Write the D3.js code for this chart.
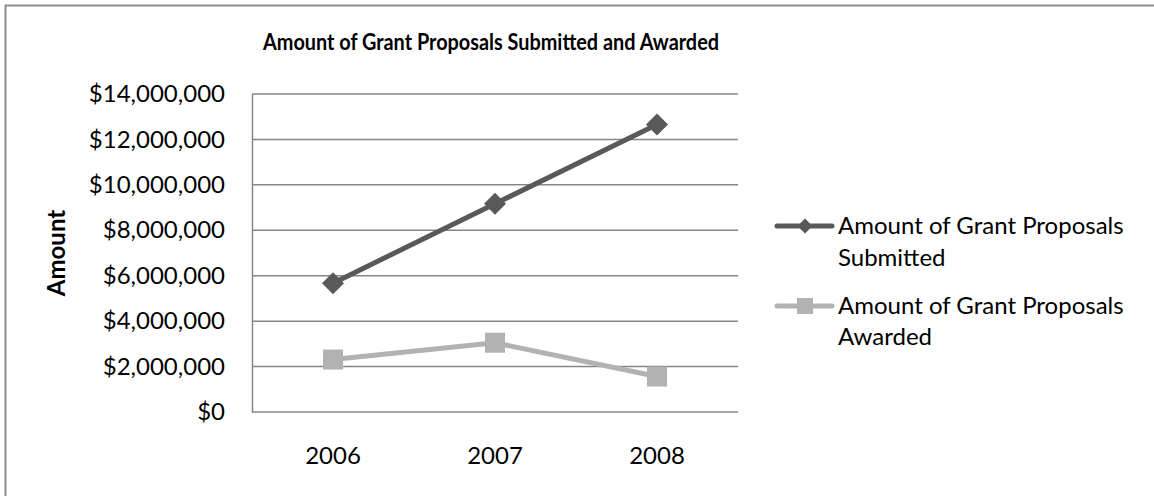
<!DOCTYPE html>
<html>
<head>
<meta charset="utf-8">
<script src="https://cdn.jsdelivr.net/npm/d3@7"></script>
<style>
  html, body { margin: 0; padding: 0; background: #fff; }
  svg { display: block; font-family: Lato, "Open Sans", sans-serif; }
</style>
</head>
<body>
<svg id="chart" width="1154" height="496"></svg>
<script>
// Grant proposal totals by year
const years = ["2006", "2007", "2008"];
const submitted = [5670000, 9170000, 12660000];
const awarded = [2310000, 3050000, 1560000];
const seriesNames = ["Amount of Grant Proposals Submitted", "Amount of Grant Proposals Awarded"];
const yTicks = [0, 2000000, 4000000, 6000000, 8000000, 10000000, 12000000, 14000000];

const svg = d3.select("#chart");
const W = 1154, H = 496;
const plot = { left: 252, right: 738, top: 94, bottom: 412 };
const labelSize = 24;

// frame around the chart area
svg.append("path")
  .attr("d", `M5.5,${H} L5.5,5.5 L${W},5.5`)
  .attr("fill", "none")
  .attr("stroke", "#8e8e8e")
  .attr("stroke-width", 2);

const x = d3.scaleBand().domain(years).range([plot.left, plot.right]).padding(0);
const y = d3.scaleLinear().domain([0, 14000000]).range([plot.bottom, plot.top]);
const cx = d => x(d) + x.bandwidth() / 2;

// horizontal gridlines
svg.append("g").selectAll("line")
  .data(yTicks)
  .join("line")
  .attr("x1", plot.left).attr("x2", plot.right)
  .attr("y1", d => y(d)).attr("y2", d => y(d))
  .attr("stroke", "#868686").attr("stroke-width", 1.5);

// y axis
const yAxis = svg.append("g")
  .attr("transform", `translate(${plot.left},0)`)
  .call(d3.axisLeft(y).tickValues(yTicks).tickFormat(d3.format("$,")).tickSize(0).tickPadding(27));
yAxis.select(".domain").attr("stroke", "#868686").attr("stroke-width", 1.5);
yAxis.selectAll("text").attr("font-size", labelSize).attr("fill", "#000").attr("font-family", "Lato, sans-serif");

// x axis labels
const xAxis = svg.append("g")
  .attr("transform", `translate(0,${plot.bottom})`)
  .call(d3.axisBottom(x).tickSize(0).tickPadding(35));
xAxis.select(".domain").remove();
xAxis.selectAll("text").attr("font-size", labelSize).attr("fill", "#000").attr("font-family", "Lato, sans-serif");

// title, condensed to a fixed width
svg.append("text")
  .attr("x", 491).attr("y", 50)
  .attr("text-anchor", "middle")
  .attr("font-size", 23).attr("font-weight", "bold")
  .attr("textLength", 456)
  .attr("lengthAdjust", "spacingAndGlyphs")
  .text("Amount of Grant Proposals Submitted and Awarded");

// y axis title
svg.append("text")
  .attr("transform", "translate(65,253) rotate(-90)")
  .attr("text-anchor", "middle")
  .attr("font-size", 24).attr("font-weight", "bold")
  .text("Amount");

const line = d3.line().x((d, i) => cx(years[i])).y(d => y(d));

const series = [
  { name: seriesNames[0], values: submitted, color: "#595959", marker: "diamond" },
  { name: seriesNames[1], values: awarded, color: "#b2b2b2", marker: "square" }
];

function drawMarker(g, type, color, px, py, size) {
  if (type === "diamond") {
    const r = size / 2;
    g.append("path")
      .attr("d", `M${px},${py - r} L${px + r},${py} L${px},${py + r} L${px - r},${py} Z`)
      .attr("fill", color);
  } else {
    g.append("rect")
      .attr("x", px - size / 2).attr("y", py - size / 2)
      .attr("width", size).attr("height", size)
      .attr("fill", color);
  }
}

series.forEach(s => {
  const g = svg.append("g");
  g.append("path")
    .attr("d", line(s.values))
    .attr("fill", "none")
    .attr("stroke", s.color)
    .attr("stroke-width", 5);
  s.values.forEach((v, i) => {
    drawMarker(g, s.marker, s.color, cx(years[i]), y(v), s.marker === "diamond" ? 22 : 20);
  });
});

// legend
const legendRows = [
  { lineY: 226, lines: ["Amount of Grant Proposals", "Submitted"], baselines: [234, 266] },
  { lineY: 306, lines: ["Amount of Grant Proposals", "Awarded"], baselines: [314, 345] }
];
legendRows.forEach((row, i) => {
  const s = series[i];
  const g = svg.append("g");
  g.append("line")
    .attr("x1", 777).attr("x2", 832)
    .attr("y1", row.lineY).attr("y2", row.lineY)
    .attr("stroke", s.color).attr("stroke-width", 5)
    .attr("stroke-linecap", "round");
  drawMarker(g, s.marker, s.color, 805, row.lineY, s.marker === "diamond" ? 15 : 16);
  row.lines.forEach((t, j) => {
    g.append("text")
      .attr("x", 838).attr("y", row.baselines[j])
      .attr("font-size", labelSize).attr("fill", "#000")
      .text(t);
  });
});
</script>
</body>
</html>
